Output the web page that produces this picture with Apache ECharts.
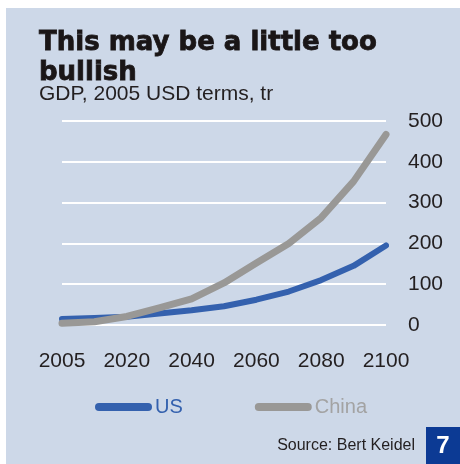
<!DOCTYPE html>
<html>
<head>
<meta charset="utf-8">
<script src="https://cdn.jsdelivr.net/npm/echarts@6/dist/echarts.min.js"></script>
<style>
  html, body { margin: 0; padding: 0; background: #ffffff; }
  #chart { width: 460px; height: 464px; }
</style>
</head>
<body>
<div id="chart"></div>
<script>
// GDP projections, 2005 USD terms, trillions
const years = ['2005', '2010', '2020', '2030', '2040', '2050', '2060', '2070', '2080', '2090', '2100'];
const usGdp = [15, 17, 20, 28, 36, 46, 62, 82, 110, 145, 195];
const chinaGdp = [4, 8, 21, 42, 64, 103, 152, 200, 263, 352, 467];
const yTicks = { min: 0, max: 500, interval: 100 };

const panelColor = '#cdd8e8';
const usColor = '#3461ae';
const chinaColor = '#999896';
const textColor = '#231f20';
const labelFont = 'Liberation Sans, Arial, sans-serif';

const chart = echarts.init(document.getElementById('chart'), null, { renderer: 'canvas' });

const legendIcon = 'path://M4,0 H53 A4,4 0 0 1 53,8 H4 A4,4 0 0 1 4,0 Z';

chart.setOption({
  backgroundColor: '#ffffff',
  animation: false,
  graphic: [
    {
      type: 'rect', z: -10, silent: true,
      shape: { x: 6, y: 8, width: 454, height: 456 },
      style: { fill: panelColor }
    },
    {
      type: 'rect', z: 10, silent: true,
      shape: { x: 426, y: 427, width: 34, height: 37 },
      style: { fill: '#0c3a94' }
    },
    {
      type: 'text', z: 11, silent: true,
      x: 443, y: 446,
      style: {
        text: '7', fill: '#ffffff', font: 'bold 24px ' + labelFont,
        align: 'center', verticalAlign: 'middle'
      }
    },
    {
      type: 'text', z: 11, silent: true,
      x: 415, y: 446,
      style: {
        text: 'Source: Bert Keidel', fill: textColor, font: '16px ' + labelFont,
        align: 'right', verticalAlign: 'middle'
      }
    }
  ],
  title: [
    {
      text: 'This may be a little too\nbullish',
      left: 39, top: 28,
      padding: 0,
      textStyle: {
        fontFamily: 'DejaVu Sans', fontWeight: 'bold', fontSize: 26,
        lineHeight: 30, color: '#1a1617',
        textBorderColor: '#1a1617', textBorderWidth: 0.8
      }
    },
    {
      text: 'GDP, 2005 USD terms, tr',
      left: 39, top: 84,
      padding: 0,
      textStyle: {
        fontFamily: labelFont, fontWeight: 'normal', fontSize: 21,
        color: textColor
      }
    }
  ],
  legend: {
    left: 95, top: 397,
    itemWidth: 57, itemHeight: 8, itemGap: 72,
    icon: legendIcon,
    padding: 0,
    textStyle: { fontFamily: labelFont, fontSize: 20, padding: [0, 0, 0, -2] },
    data: [
      { name: 'US', textStyle: { color: usColor } },
      { name: 'China', textStyle: { color: '#a3a3a3' } }
    ]
  },
  grid: { left: 62, right: 74, top: 121, bottom: 139, containLabel: false },
  xAxis: {
    type: 'category',
    data: years,
    boundaryGap: false,
    axisLine: { show: false },
    axisTick: { show: false },
    splitLine: { show: false },
    axisLabel: {
      interval: 1, margin: 26,
      fontFamily: labelFont, fontSize: 21, color: textColor
    }
  },
  yAxis: {
    type: 'value',
    position: 'right',
    min: yTicks.min, max: yTicks.max, interval: yTicks.interval,
    axisLine: { show: false },
    axisTick: { show: false },
    splitLine: { show: true, lineStyle: { color: '#ffffff', width: 2 } },
    axisLabel: {
      margin: 22, align: 'left',
      fontFamily: labelFont, fontSize: 21, color: textColor
    }
  },
  series: [
    {
      name: 'US', type: 'line', data: usGdp,
      showSymbol: false, symbol: 'none',
      color: usColor,
      lineStyle: { color: usColor, width: 6, cap: 'round', join: 'round' }
    },
    {
      name: 'China', type: 'line', data: chinaGdp,
      showSymbol: false, symbol: 'none',
      color: chinaColor,
      lineStyle: { color: chinaColor, width: 7, cap: 'round', join: 'round' }
    }
  ]
});
</script>
</body>
</html>
